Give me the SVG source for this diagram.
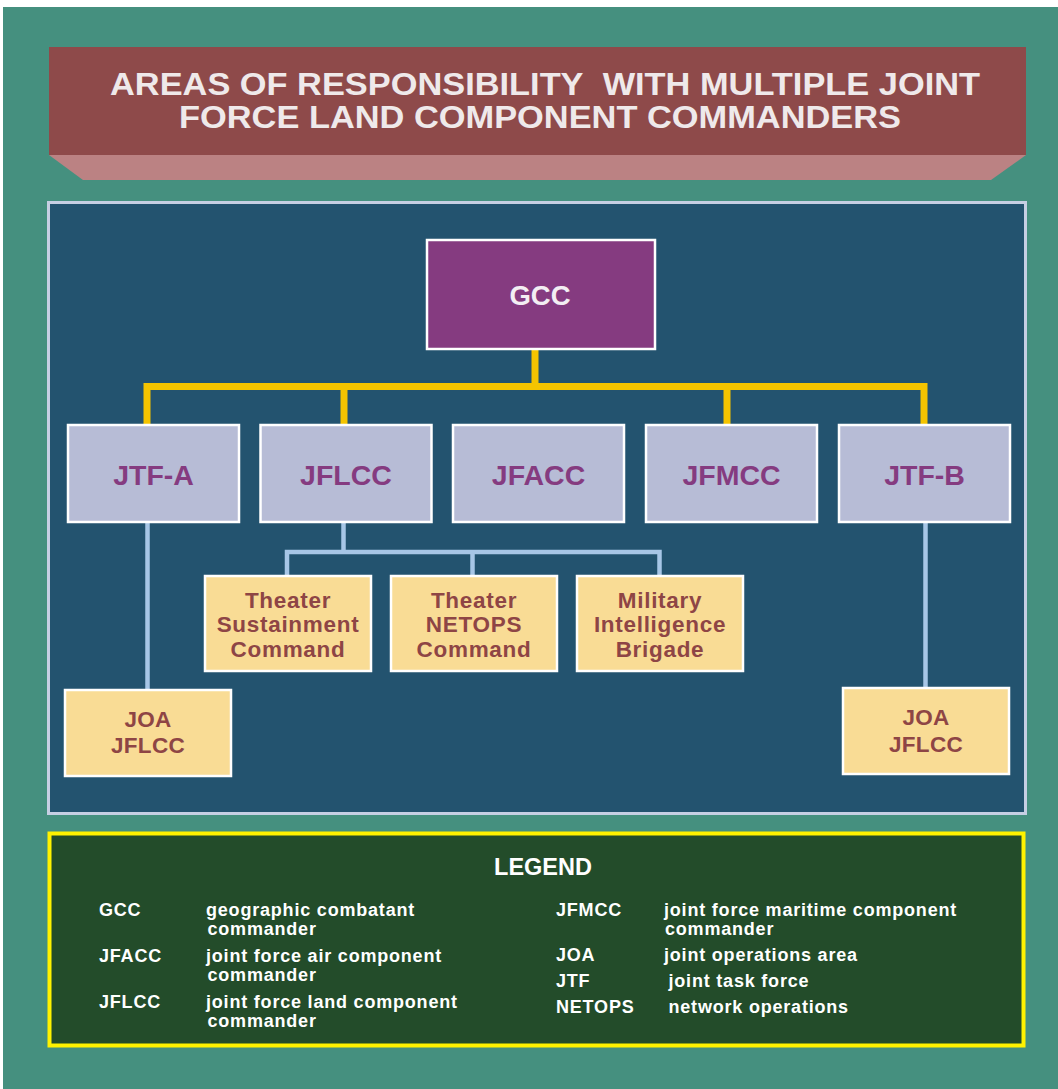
<svg xmlns="http://www.w3.org/2000/svg" width="1058" height="1089" viewBox="0 0 1058 1089">
<style>
text{font-family:"Liberation Sans",Arial,sans-serif;font-weight:bold;text-anchor:middle}
.title{fill:#efe9ea;font-size:31px}
.lv2 rect{fill:#b7bcd6;stroke:#ffffff;stroke-width:2.5}
.lv2 text{fill:#853b80;font-size:28.5px}
.sub rect{fill:#f9dc95;stroke:#ffffff;stroke-width:2.5}
.sub text{fill:#8e4545;font-size:22.5px;letter-spacing:0.7px}
.joa text{font-size:22.5px;letter-spacing:0.3px}
.yl{stroke:#f5c400;stroke-width:7;fill:none}
.bl{stroke:#a7c6e6;stroke-width:4.5;fill:none}
.lg{fill:#ffffff;font-size:18px;letter-spacing:0.8px;text-anchor:start}
</style>
<rect x="0" y="0" width="1058" height="1089" fill="#ffffff"/>
<rect x="3" y="7" width="1055" height="1082" fill="#45907f"/>
<g id="title">
<polygon points="49,155 1026,155 991,180 83,180" fill="#bb8283"/>
<rect x="49" y="47" width="977" height="108" fill="#8e4a4a"/>
<text class="title" x="545" y="95" textLength="870" lengthAdjust="spacingAndGlyphs">AREAS OF RESPONSIBILITY&#160; WITH MULTIPLE JOINT</text>
<text class="title" x="540" y="128" textLength="722" lengthAdjust="spacingAndGlyphs">FORCE LAND COMPONENT COMMANDERS</text>
</g>
<rect id="panel" x="48.5" y="202.5" width="977" height="611" fill="#23536f" stroke="#c6cfe3" stroke-width="3"/>
<g id="connectors">
<path class="yl" d="M535,349 V386.5 M147,425 V386.5 H924 V425 M344,386.5 V425 M727,386.5 V425"/>
<path class="bl" d="M147.5,522 V690 M343.5,522 V552 M287,576 V552 H659.5 V576 M472.5,552 V576 M925.5,522 V688"/>
</g>
<g id="gcc">
<rect x="427" y="240" width="228" height="109" fill="#853b80" stroke="#ffffff" stroke-width="2.5"/>
<text x="540" y="305" fill="#f3eef3" font-size="27.5">GCC</text>
</g>
<g id="jtf-a" class="lv2"><rect x="68" y="425" width="171" height="97"/><text x="153.5" y="485">JTF-A</text></g>
<g id="jflcc" class="lv2"><rect x="260.5" y="425" width="171" height="97"/><text x="346" y="485">JFLCC</text></g>
<g id="jfacc" class="lv2"><rect x="453" y="425" width="171" height="97"/><text x="538.5" y="485">JFACC</text></g>
<g id="jfmcc" class="lv2"><rect x="646" y="425" width="171" height="97"/><text x="731.5" y="485">JFMCC</text></g>
<g id="jtf-b" class="lv2"><rect x="839" y="425" width="171" height="97"/><text x="924.5" y="485">JTF-B</text></g>
<g id="tsc" class="sub"><rect x="205" y="576" width="166" height="95"/>
<text x="288" y="608">Theater</text><text x="288" y="632">Sustainment</text><text x="288" y="657">Command</text></g>
<g id="tnc" class="sub"><rect x="391" y="576" width="166" height="95"/>
<text x="474" y="608">Theater</text><text x="474" y="632">NETOPS</text><text x="474" y="657">Command</text></g>
<g id="mib" class="sub"><rect x="577" y="576" width="166" height="95"/>
<text x="660" y="608">Military</text><text x="660" y="632">Intelligence</text><text x="660" y="657">Brigade</text></g>
<g id="joa-a" class="sub joa"><rect x="65" y="690" width="166" height="86"/>
<text x="148" y="727">JOA</text><text x="148" y="753">JFLCC</text></g>
<g id="joa-b" class="sub joa"><rect x="843" y="688" width="166" height="86"/>
<text x="926" y="725">JOA</text><text x="926" y="751.5">JFLCC</text></g>
<g id="legend">
<rect x="49.5" y="833.5" width="974" height="212" fill="#234c2a" stroke="#fff200" stroke-width="4"/>
<text x="543" y="875" fill="#ffffff" font-size="23.5">LEGEND</text>
<text class="lg" x="99" y="915.5">GCC</text>
<text class="lg" x="206" y="915.5">geographic combatant</text>
<text class="lg" x="207.5" y="935">commander</text>
<text class="lg" x="99" y="961.5">JFACC</text>
<text class="lg" x="206" y="961.5">joint force air component</text>
<text class="lg" x="207.5" y="981">commander</text>
<text class="lg" x="99" y="1007.5">JFLCC</text>
<text class="lg" x="206" y="1007.5">joint force land component</text>
<text class="lg" x="207.5" y="1026.5">commander</text>
<text class="lg" x="556" y="915.5">JFMCC</text>
<text class="lg" x="664" y="915.5">joint force maritime component</text>
<text class="lg" x="665" y="935">commander</text>
<text class="lg" x="556" y="961">JOA</text>
<text class="lg" x="664" y="961">joint operations area</text>
<text class="lg" x="556" y="986.5">JTF</text>
<text class="lg" x="668.5" y="986.5">joint task force</text>
<text class="lg" x="556" y="1012.5">NETOPS</text>
<text class="lg" x="668.5" y="1012.5">network operations</text>
</g>
</svg>
